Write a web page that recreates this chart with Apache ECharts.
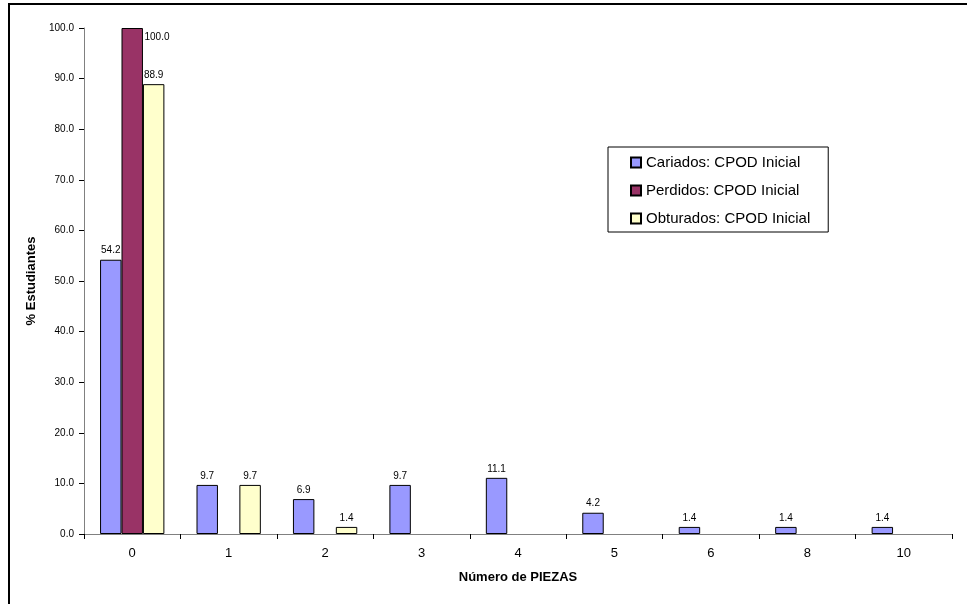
<!DOCTYPE html>
<html>
<head>
<meta charset="utf-8">
<script src="https://cdn.jsdelivr.net/npm/echarts@6/dist/echarts.min.js"></script>
<style>
html,body{margin:0;padding:0;background:#fff;}
#chart{width:967px;height:604px;}
</style>
</head>
<body>
<div id="chart"></div>
<script>
var categories = ['0','1','2','3','4','5','6','8','10'];
var cariados = [54.2, 9.7, 6.9, 9.7, 11.1, 4.2, 1.4, 1.4, 1.4];
var perdidos = [100.0, null, null, null, null, null, null, null, null];
var obturados = [88.9, 9.7, 1.4, null, null, null, null, null, null];
var seriesNames = ['Cariados: CPOD Inicial', 'Perdidos: CPOD Inicial', 'Obturados: CPOD Inicial'];
var yTicks = [0, 10, 20, 30, 40, 50, 60, 70, 80, 90, 100];

var colors = ['#9999FF', '#993366', '#FFFFCC'];
var font = 'Arial, "Liberation Sans", sans-serif';

function mkSeries(name, data, color, specialFirst) {
  var d = data.map(function (v, i) {
    if (specialFirst && i === 0) {
      return { value: v, label: { position: [23, 4], align: 'left', verticalAlign: 'top' } };
    }
    return v;
  });
  return {
    name: name,
    type: 'bar',
    data: d,
    barGap: '0%',
    barCategoryGap: '33.3%',
    itemStyle: { color: color, borderColor: '#000', borderWidth: 1 },
    label: {
      show: true, position: 'top', distance: 4,
      fontFamily: font, fontSize: 10, color: '#000',
      formatter: function (p) { return p.value == null ? '' : Number(p.value).toFixed(1); }
    },
    emphasis: { disabled: true }
  };
}

var chart = echarts.init(document.getElementById('chart'), null, { renderer: 'canvas' });
chart.setOption({
  backgroundColor: '#fff',
  animation: false,
  graphic: [{
    type: 'rect', shape: { x: 9, y: 4, width: 1000, height: 700 },
    style: { fill: 'none', stroke: '#000', lineWidth: 2 }, silent: true
  }],
  grid: { left: 84, right: 15, top: 28, bottom: 70, containLabel: false },
  legend: {
    orient: 'vertical', left: 608, top: 147,
    padding: [8, 18, 6, 22], itemGap: 13,
    itemWidth: 10, itemHeight: 10,
    borderColor: '#000', borderWidth: 1,
    backgroundColor: '#fff',
    textStyle: { fontFamily: font, fontSize: 15, color: '#000', lineHeight: 15 },
    data: seriesNames.map(function (n) { return { name: n, icon: 'rect' }; })
  },
  xAxis: {
    type: 'category', data: categories,
    name: 'Número de PIEZAS', nameLocation: 'middle', nameGap: 37,
    nameTextStyle: { fontFamily: font, fontSize: 13, fontWeight: 'bold', color: '#000' },
    axisLine: { lineStyle: { color: '#808080', width: 1 } },
    axisTick: { show: true, alignWithLabel: false, length: 5, inside: false, lineStyle: { color: '#000' } },
    axisLabel: { fontFamily: font, fontSize: 13, color: '#000', margin: 13 },
    splitLine: { show: false }
  },
  yAxis: {
    type: 'value', min: 0, max: 100, interval: 10,
    name: '% Estudiantes', nameLocation: 'middle', nameGap: 42, nameRotate: 90,
    nameTextStyle: { fontFamily: font, fontSize: 13, fontWeight: 'bold', color: '#000' },
    axisLine: { show: true, lineStyle: { color: '#808080', width: 1 } },
    axisTick: { show: true, length: 5, lineStyle: { color: '#000' } },
    axisLabel: {
      fontFamily: font, fontSize: 10, color: '#000', margin: 10,
      formatter: function (v) { return yTicks.indexOf(v) >= 0 ? v.toFixed(1) : ''; }
    },
    splitLine: { show: false }
  },
  series: [
    mkSeries(seriesNames[0], cariados, colors[0], false),
    mkSeries(seriesNames[1], perdidos, colors[1], true),
    mkSeries(seriesNames[2], obturados, colors[2], false)
  ]
});
</script>
</body>
</html>
